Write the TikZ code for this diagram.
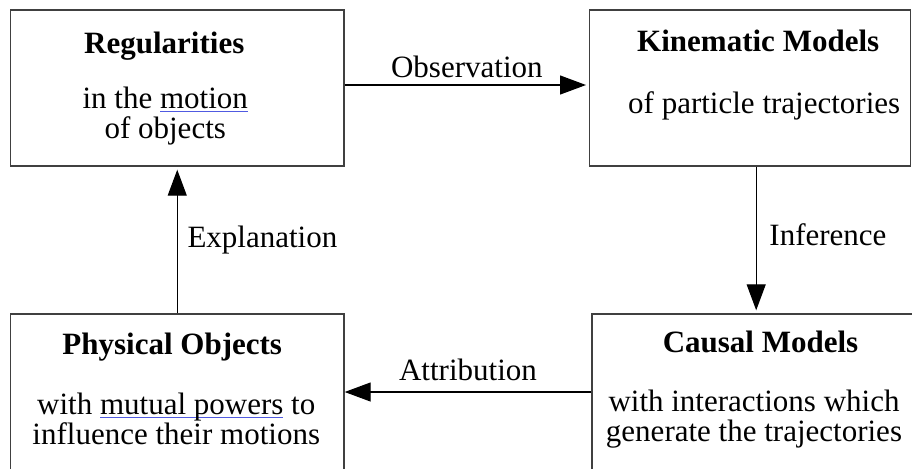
\documentclass[tikz,border=0pt]{standalone}
\usepackage{fontspec}
\setmainfont{Liberation Serif}
\usetikzlibrary{arrows.meta,positioning}
\definecolor{linkblue}{RGB}{80,90,225}
\newsavebox{\linkbox}
\newcommand{\linked}[1]{\sbox{\linkbox}{#1}\rlap{\color{linkblue}\rule[-1.8pt]{\wd\linkbox}{0.6pt}}\usebox{\linkbox}}

\begin{document}
\begin{tikzpicture}[
        x=0.5pt, y=-0.5pt,
        box/.style={
            draw=black!75,
            line width=0.7pt,
            rectangle,
            minimum height=78pt,
            inner sep=0pt
        },
        title/.style={font={\fontsize{15.5}{15}\selectfont\bfseries}, anchor=base, inner sep=0pt},
        body/.style={font={\fontsize{15.5}{15}\selectfont}, align=center, anchor=base, inner sep=0pt},
        edgelabel/.style={font={\fontsize{15.5}{15}\selectfont}},
        arrow/.style={-{Triangle[length=13pt,width=9.5pt]}, line width=0.6pt, shorten >=1.5pt}
    ]

    \path[use as bounding box, fill=white] (0,0) rectangle (912,468);
    \clip (0,0) rectangle (912,468);

    % Top row
    \node[box, minimum width=166.75pt] (reg) at (177.25,88) {};
    \node[box, minimum width=160.5pt] (kin) at (750.2,88) {};

    % Bottom row
    \node[box, minimum width=166.75pt] (phys) at (177.25,392) {};
    \node[box, minimum width=161pt] (caus) at (753,392) {};

    % Box texts (base = last line)
    \node[title] (regtitle) at ([xshift=-6.5pt,yshift=-22pt]reg.north) {Regularities};
    \node[body] (regbody) at ([xshift=-6pt,yshift=-64.5pt]reg.north) {in the \linked{motion}\\of objects};

    \node[title] (kintitle) at ([xshift=4pt,yshift=-21pt]kin.north) {Kinematic Models};
    \node[body] (kinbody) at ([xshift=7pt,yshift=-52pt]kin.north) {of particle trajectories};

    \node[title] (phystitle) at ([xshift=-2.5pt,yshift=-20.5pt]phys.north) {Physical Objects};
    \node[body] (physbody) at ([xshift=-0.5pt,yshift=-65.5pt]phys.north) {with \linked{mutual powers} to\\influence their motions};

    \node[title] (caustitle) at ([xshift=3.75pt,yshift=-19.5pt]caus.north) {Causal Models};
    \node[body] (causbody) at ([xshift=0.5pt,yshift=-64pt]caus.north) {with interactions which\\generate the trajectories};

    % Arrows
    \draw[arrow] ([yshift=1.5pt]reg.east) -- node[edgelabel, above] (obslabel) {Observation} ([yshift=1.5pt]kin.west);
    \draw[arrow] ([xshift=3pt]kin.south) -- node[edgelabel, right=3pt, yshift=2.5pt] (inflabel) {Inference} ([xshift=3pt]kin.south |- caus.north);
    \draw[arrow, shorten >=0pt] (caus.west) -- node[edgelabel, above=2pt] (attlabel) {Attribution} (phys.east);
    \draw[arrow] (phys.north) -- node[edgelabel, right=1.5pt] (explabel) {Explanation} (reg.south);

\end{tikzpicture}
\end{document}
